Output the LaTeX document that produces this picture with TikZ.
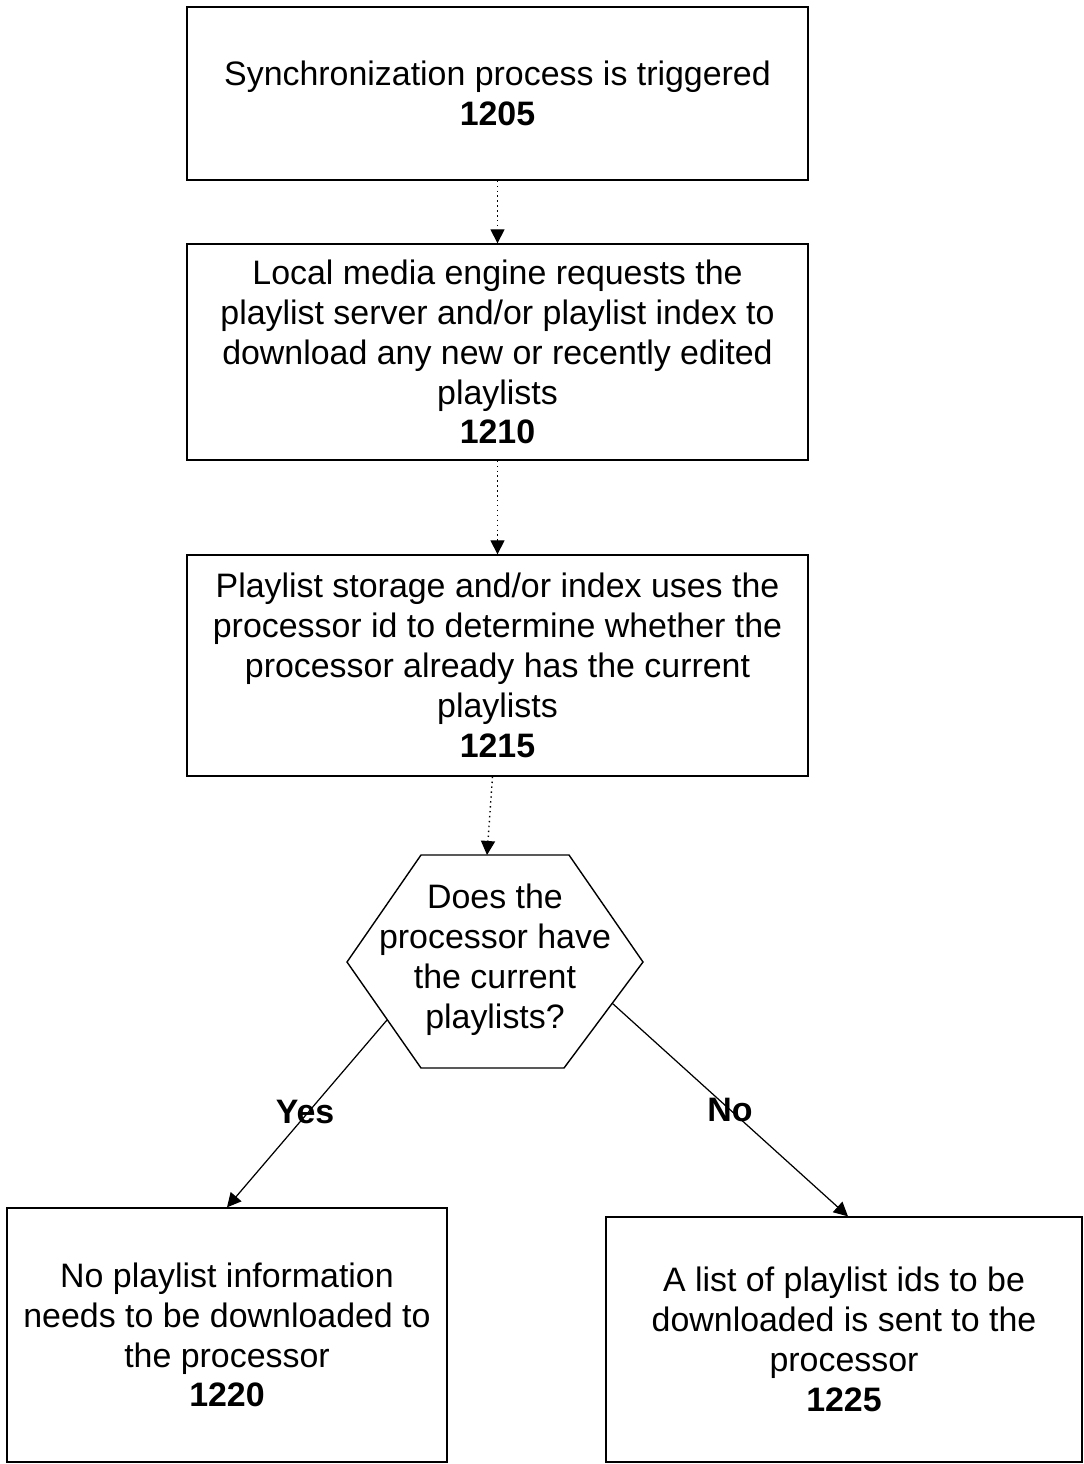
\documentclass[tikz,border=0pt]{standalone}
\usepackage{fontspec}
\setmainfont{Liberation Sans}
\usetikzlibrary{arrows.meta}

\tikzset{
  stepbox/.style={draw, line width=0.8pt, align=center, inner sep=0pt,
    font=\fontsize{19.3}{22.7}\selectfont},
  dotarrow/.style={dotted, line width=0.8pt, -{Triangle[length=8pt,width=8pt]}},
  solidarrow/.style={line width=0.7pt, -{Triangle[length=8pt,width=8pt]}},
  answer/.style={font=\fontsize{19.3}{22.7}\selectfont\bfseries}
}

\begin{document}
\begin{tikzpicture}[x=0.02cm, y=-0.02cm]

% page
\useasboundingbox (0,0) rectangle (1083,1464);

% boxes
\node[stepbox, minimum width=12.42cm, minimum height=3.46cm] (b1205) at (497.5, 93.5)
  {Synchronization process is triggered\\ \textbf{1205}};

\node[stepbox, minimum width=12.42cm, minimum height=4.32cm] (b1210) at (497.5, 352)
  {Local media engine requests the\\ playlist server and/or playlist index to\\
   download any new or recently edited\\ playlists\\ \textbf{1210}};

\node[stepbox, minimum width=12.42cm, minimum height=4.42cm] (b1215) at (497.5, 665.5)
  {Playlist storage and/or index uses the\\ processor id to determine whether the\\
   processor already has the current\\ playlists\\ \textbf{1215}};

\node[stepbox, minimum width=8.8cm, minimum height=5.08cm] (b1220) at (227, 1335)
  {No playlist information\\ needs to be downloaded to\\ the processor\\ \textbf{1220}};

\node[stepbox, minimum width=9.52cm, minimum height=4.9cm] (b1225) at (844, 1339.5)
  {A list of playlist ids to be\\ downloaded is sent to the\\ processor\\ \textbf{1225}};

% decision hexagon
\coordinate (htop) at (487, 855);
\coordinate (hyes) at (387, 1020);
\coordinate (hno) at (612, 1003);
\draw[line width=0.8pt] (421,855) -- (569,855) -- (643,962) -- (564,1068)
  -- (421,1068) -- (347,962) -- cycle;
\node[align=center, font=\fontsize{19.3}{22.7}\selectfont] (dec) at (495, 960)
  {Does the\\ processor have\\ the current\\ playlists?};

% connectors
\draw[dotarrow] (b1205.south) -- (b1210.north);
\draw[dotarrow] (b1210.south) -- (b1215.north);
\draw[dotarrow] ([xshift=-0.1cm]b1215.south) -- (htop);

\draw[solidarrow] (hyes) -- (b1220.north);
\draw[solidarrow] (hno) -- ([xshift=0.08cm]b1225.north);

\node[answer] (yes) at (305, 1112) {Yes};
\node[answer] (no) at (730, 1110) {No};

\end{tikzpicture}
\end{document}
